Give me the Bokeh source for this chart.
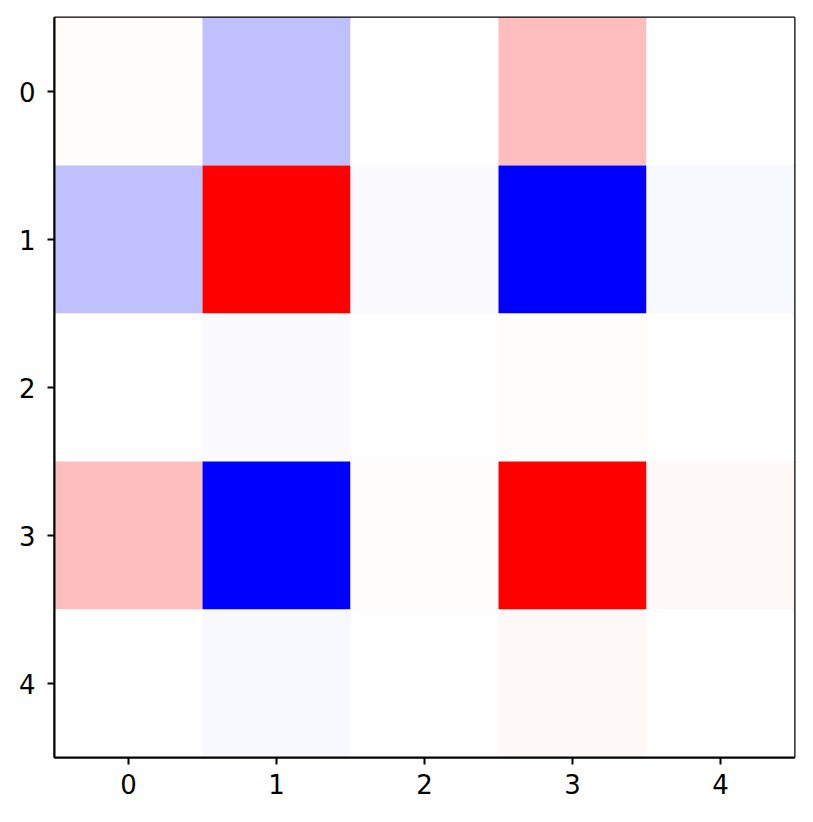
from bokeh.plotting import figure
from bokeh.models import Range1d, FixedTicker, LinearColorMapper, ColumnDataSource
from bokeh.embed import file_html
from bokeh.resources import INLINE

# Matrix values (row index = y, column index = x)
row_0 = [0.01, -0.25, 0.0, 0.25, -0.005]
row_1 = [-0.25, 1.0, -0.016, -1.0, -0.03]
row_2 = [-0.005, -0.016, -0.005, 0.01, -0.005]
row_3 = [0.25, -1.0, 0.01, 1.0, 0.03]
row_4 = [-0.005, -0.03, -0.005, 0.03, -0.005]
rows = [row_0, row_1, row_2, row_3, row_4]
tick_labels = ["0", "1", "2", "3", "4"]

# bwr colormap palette (blue -> white -> red)
def bwr(t):
    if t < 0.5:
        c = 2 * t
        r, g, b = c, c, 1.0
    else:
        c = 2 * (1 - t)
        r, g, b = 1.0, c, c
    return "#%02x%02x%02x" % (round(r * 255), round(g * 255), round(b * 255))

palette = [bwr(i / 255) for i in range(256)]

xs, ys, vals = [], [], []
for yi, row in enumerate(rows):
    for xi, v in enumerate(row):
        xs.append(xi)
        ys.append(yi)
        vals.append(v)

vmax = max(abs(v) for v in vals)
mapper = LinearColorMapper(palette=palette, low=-vmax, high=vmax)
src = ColumnDataSource(dict(x=xs, y=ys, v=vals))

p = figure(width=805, height=807, output_backend="svg", toolbar_location=None,
           x_range=Range1d(-0.5, 4.5), y_range=Range1d(4.5, -0.5),
           min_border_left=54, min_border_right=11, min_border_top=17, min_border_bottom=50)
p.rect(x="x", y="y", width=1, height=1, source=src,
       fill_color={"field": "v", "transform": mapper}, line_color=None)

p.grid.visible = False
p.outline_line_color = "black"
p.outline_line_width = 2
p.background_fill_color = "white"
p.border_fill_color = "white"

for ax in (p.xaxis[0], p.yaxis[0]):
    ax.ticker = FixedTicker(ticks=[0, 1, 2, 3, 4])
    ax.major_label_overrides = {i: tick_labels[i] for i in range(5)}
    ax.minor_tick_line_color = None
    ax.major_tick_out = 7
    ax.major_tick_in = 0
    ax.major_tick_line_width = 2
    ax.major_tick_line_color = "black"
    ax.axis_line_color = "black"
    ax.axis_line_width = 2
    ax.major_label_text_font = "DejaVu Sans"
    ax.major_label_text_font_size = "26px"
    ax.major_label_text_color = "black"

p.xaxis[0].major_label_standoff = 9
p.yaxis[0].major_label_standoff = 12
p.yaxis[0].major_label_orientation = "horizontal"

open("out.html", "w").write(file_html(p, INLINE))
